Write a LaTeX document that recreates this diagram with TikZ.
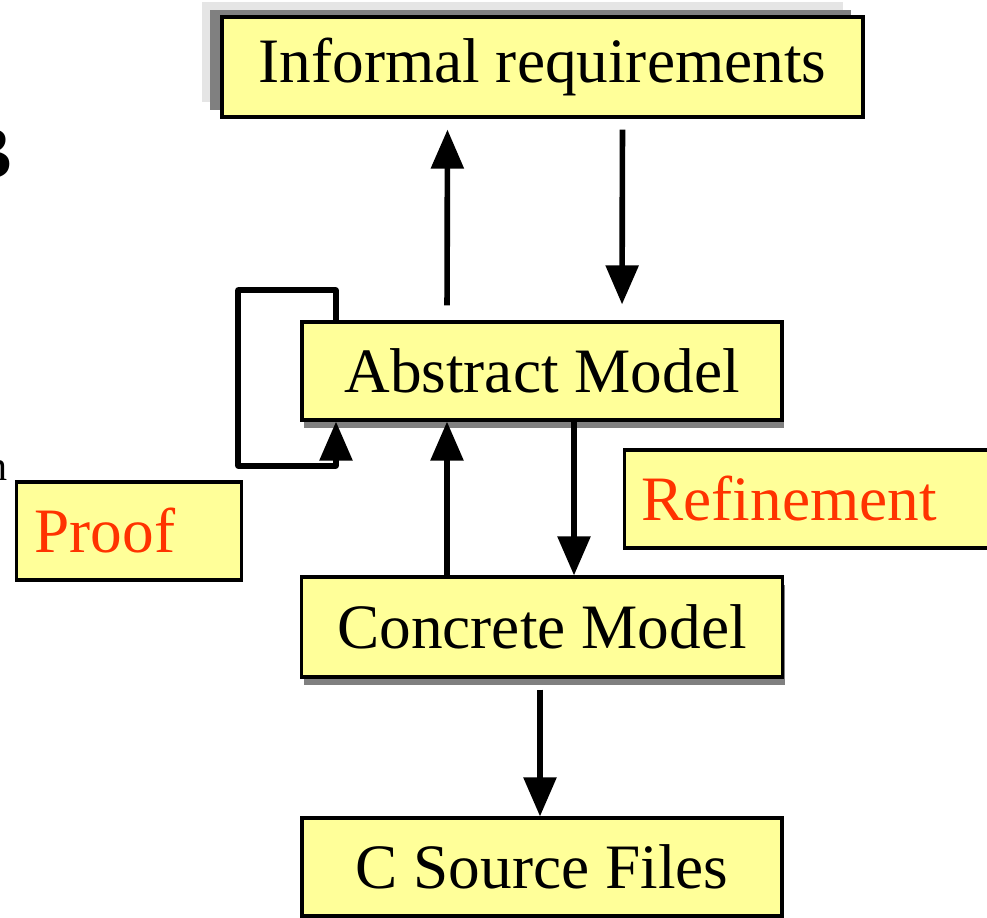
\documentclass[tikz,border=0pt]{standalone}
\usepackage{fontspec}
\setmainfont{Liberation Serif}
\usetikzlibrary{arrows.meta}
\usetikzlibrary{shadows}

\definecolor{boxyellow}{HTML}{FFFF99}
\definecolor{labelred}{HTML}{FF3300}

\tikzset{
    box/.style={draw=black,line width=0.9pt,fill=boxyellow,minimum height=0.98cm,inner sep=0pt,
        font=\fontsize{18}{21.6}\selectfont},
    shadowbox/.style={box,drop shadow={shadow xshift=0.02cm,shadow yshift=-0.08cm,fill=black!50,opacity=1}},
    labelbox/.style={box,anchor=west,align=left,inner xsep=0.17cm,text=labelred},
    arr/.style={-{Triangle[width=0.32cm,length=0.39cm]},line width=1.6pt,line join=round}
}

\begin{document}
\begin{tikzpicture}
    \clip (0,0) rectangle (9.87,-9.18);

    % cut off text at the left border
    \node[anchor=base east,font=\fontsize{21.5}{24}\selectfont\bfseries,inner sep=0pt] (letterB) at (0.13,-1.78) {B};
    \node[anchor=base east,font=\fontsize{12}{14}\selectfont,inner sep=0pt] (lettern) at (0.08,-4.80) {n};

    % informal requirements
    \node[box,minimum width=6.41cm,minimum height=1.0cm,
        drop shadow={shadow xshift=-0.20cm,shadow yshift=0.15cm,fill=black!10,opacity=1},
        drop shadow={shadow xshift=-0.12cm,shadow yshift=0.075cm,fill=black!50,opacity=1}]
        (inf) at (5.425,-0.67) {Informal requirements};

    % the models
    \node[shadowbox,minimum width=4.8cm] (abs) at (5.42,-3.71) {Abstract Model};
    \node[shadowbox,minimum width=4.81cm,minimum height=1.0cm] (con) at (5.42,-6.27) {Concrete Model};

    % C source files
    \node[box,minimum width=4.8cm] (src) at (5.42,-8.67) {C Source Files};

    % labels
    \node[labelbox,text width=3.66cm] (refine) at (6.23,-4.99) {Refinement};
    \node[labelbox,text width=1.89cm,inner xsep=0.18cm] (proof) at (0.15,-5.31) {Proof};

    % abstract model <-> informal requirements
    \draw[arr,shorten <=0.15cm,shorten >=0.11cm] ([xshift=-0.95cm]abs.north) -- ([xshift=-0.95cm]inf.south);
    \draw[arr,shorten <=0.11cm,shorten >=0.16cm] ([xshift=0.80cm]inf.south) -- ([xshift=0.80cm]abs.north);

    % abstract model <-> concrete model
    \draw[arr] ([xshift=0.32cm,yshift=0.02cm]abs.south) -- ([xshift=0.32cm]con.north);
    \draw[arr] ([xshift=-0.95cm]con.north) -- ([xshift=-0.95cm]abs.south);

    % proof loop on the abstract model
    \coordinate (loopT) at (2.38,-2.90);
    \coordinate (loopB) at (3.36,-4.66);
    \draw[arr] ([xshift=-2.06cm]abs.north) |- (loopT) |- (loopB) -- ([xshift=-2.06cm]abs.south);

    % concrete model to C source files
    \draw[arr,shorten <=0.11cm] ([xshift=-0.02cm]con.south) -- ([xshift=-0.02cm]src.north);
\end{tikzpicture}
\end{document}
